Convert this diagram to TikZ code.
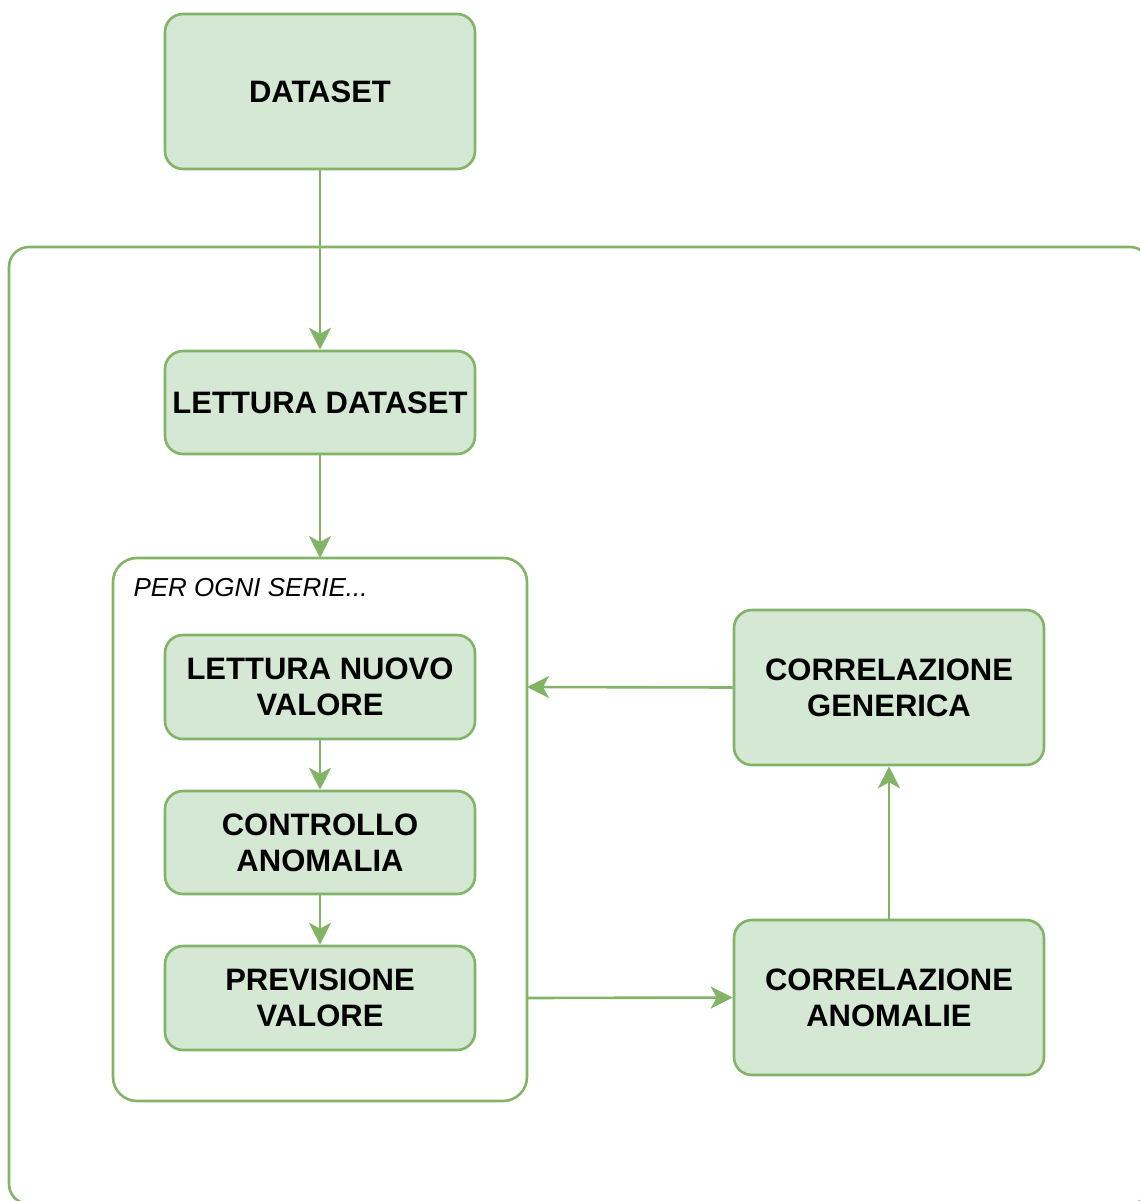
\documentclass[tikz,border=0pt]{standalone}
\usepackage{fontspec}
\setmainfont{Liberation Sans}
\usetikzlibrary{arrows.meta}
\definecolor{gfill}{HTML}{D5E8D4}
\definecolor{gline}{HTML}{82B366}
\tikzset{
  box/.style={draw=gline, fill=gfill, line width=2.6pt, rounded corners=18pt,
    minimum width=310pt, align=center, inner sep=0pt,
    font=\fontsize{31}{36}\selectfont\bfseries},
  frame/.style={draw=gline, line width=2.6pt},
  conn/.style={draw=gline, line width=2.6pt, -{Stealth[length=22pt, width=22pt, inset=6pt]}},
}
\begin{document}
\begin{tikzpicture}[x=1pt, y=-1pt]
\clip (0,0) rectangle (1140,1201);
\fill[white] (0,0) rectangle (1140,1201);
% outer container
\draw[frame, rounded corners=20pt] (9,247) rectangle (1150,1204);
% inner container
\draw[frame, fill=white, rounded corners=24pt] (113,558) rectangle (527,1101);
\coordinate (innerTop) at (320,558);
\coordinate (innerRightA) at (527,687);
\coordinate (innerRightB) at (527,998);
\node[anchor=west, font=\fontsize{26}{30}\selectfont\itshape] (lbl) at (130,588) {PER OGNI SERIE...};
% boxes
\node[box, minimum height=155pt] (ds) at (320,91.5) {DATASET};
\node[box, minimum height=103pt] (lds) at (320,402.5) {LETTURA DATASET};
\node[box, minimum height=104pt] (lnv) at (320,687) {LETTURA NUOVO\\VALORE};
\node[box, minimum height=103pt] (ca) at (320,842.5) {CONTROLLO\\ANOMALIA};
\node[box, minimum height=104pt] (pv) at (320,998) {PREVISIONE\\VALORE};
\node[box, minimum height=155pt] (cg) at (889,687.5) {CORRELAZIONE\\GENERICA};
\node[box, minimum height=155pt] (can) at (889,997.5) {CORRELAZIONE\\ANOMALIE};
% connectors
\draw[conn] (ds.south) -- (lds.north);
\draw[conn] (lds.south) -- (innerTop);
\draw[conn] (lnv.south) -- (ca.north);
\draw[conn] (ca.south) -- (pv.north);
\draw[conn] (cg.west) -- (innerRightA);
\draw[conn] (innerRightB) -- (can.west);
\draw[conn] (can.north) -- (cg.south);
\end{tikzpicture}
\end{document}
